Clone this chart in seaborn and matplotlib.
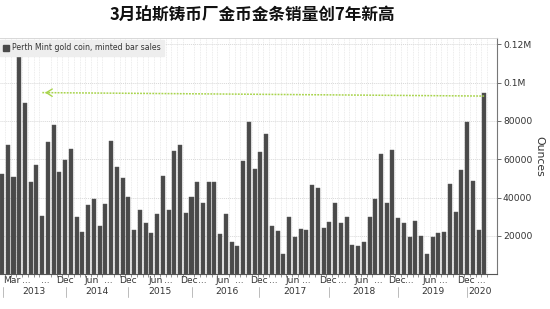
import numpy as np
import pandas as pd
import matplotlib
matplotlib.use("Agg")
import matplotlib.pyplot as plt
from matplotlib.patches import Patch
import seaborn as sns

# ---------------- data ----------------
months = [p.strftime("%Y-%m") for p in pd.period_range("2013-03", "2020-03", freq="M")]
sales = [52200, 67300, 50900, 113600, 89600, 48000, 57100, 30400, 68900, 77900,
         53200, 59500, 65400, 30100, 22200, 36200, 39500, 25200, 36700, 69400,
         55900, 50400, 40500, 23300, 33600, 26800, 21700, 31300, 51500, 33600,
         64400, 67500, 32000, 40400, 48200, 37200, 48300, 48000, 21200, 31500,
         16900, 14800, 59100, 79700, 55000, 63800, 73200, 25200, 22400, 10400,
         29800, 19300, 23800, 23100, 46800, 44900, 24200, 27100, 37400, 26800,
         29900, 15300, 14800, 16900, 29900, 39200, 63000, 37100, 64900, 29200,
         26600, 19500, 28000, 19800, 10600, 19300, 21600, 21900, 47100, 32500,
         54400, 79700, 48500, 23000, 94500]
month_labels = ["Mar", "...", "...", "Dec", "Jun", "...", "Dec", "Jun", "...", "Dec",
                "...", "Jun", "...", "Dec", "...", "Jun", "...", "Dec", "...", "Jun",
                "...", "Dec", "...", "Jun", "...", "Dec", "..."]
year_labels = ["2013", "2014", "2015", "2016", "2017", "2018", "2019", "2020"]
ytick_values = [20000, 40000, 60000, 80000, 100000, 120000]
ytick_labels = ["20000", "40000", "60000", "80000", "0.1M", "0.12M"]
series_name = "Perth Mint gold coin, minted bar sales"
title = "3月珀斯铸币厂金币金条销量创7年新高"
ylabel = "Ounces"

# ---------------- layout ----------------
month_label_pos = [1.65, 4.3, 7.5, 11.0, 15.6, 18.5, 21.9, 26.8, 29.0, 32.5,
                   34.8, 38.5, 41.4, 44.8, 47.3, 50.6, 53.0, 56.7, 59.2, 62.6,
                   65.5, 68.7, 71.0, 74.4, 76.9, 80.8, 83.4]
year_label_pos = [5.5, 16.5, 27.5, 39.1, 51.0, 63.0, 75.0, 83.3]
year_sep_pos = [0.2, 11.1, 21.9, 33.0, 44.8, 57.0, 69.0, 81.0]
arrow_left = (7.02, 94800)
arrow_right_x = 84.1

W, H = 550, 309
bar_color = "#4a4a4a"
grid_color = "#d8d8d8"
text_color = "#333333"
arrow_color = "#a8d44c"
fs = 6.6

sns.set_theme(style="white")
plt.rcParams["font.family"] = ["DejaVu Sans"]

fig = plt.figure(figsize=(W / 100, H / 100), dpi=100)
ax_left, ax_right_px, ax_bottom_px, ax_top_px = 0.0, 496.7, 274.3, 38.0
ax = fig.add_axes([ax_left, (H - ax_bottom_px) / H,
                   ax_right_px / W - ax_left, (ax_bottom_px - ax_top_px) / H])
ax_h_px = ax_bottom_px - ax_top_px

df = pd.DataFrame({"month": months, "sales": sales})
sns.barplot(data=df, x="month", y="sales", order=months, color=bar_color,
            width=0.7, saturation=1, ax=ax, zorder=3)
for p in ax.patches:
    p.set_edgecolor("#5a5a5a")
    p.set_linewidth(0.3)

n = len(months)
ax.set_xlim(-0.35, 86.15)
ax.set_ylim(0, 123300)

# y axis on the right
ax.yaxis.tick_right()
ax.yaxis.set_label_position("right")
ax.set_yticks(ytick_values)
ax.set_yticklabels(ytick_labels, fontsize=fs, color=text_color)
ax.tick_params(axis="y", which="major", length=3, width=0.6, color="#555555",
               pad=1.5, right=True, left=False)
ax.set_ylabel(ylabel, rotation=270, fontsize=7.8, color=text_color, labelpad=9)

# x axis: labels at fractional positions, tiny ticks at each month
ax.set_xticks(month_label_pos)
ax.set_xticklabels(month_labels, fontsize=fs, color=text_color)
ax.tick_params(axis="x", which="major", length=0, pad=1.5)
ax.set_xticks(np.arange(n) + 0.5, minor=True)
ax.tick_params(axis="x", which="minor", length=1.8, width=0.5, color="#666666",
               bottom=True)
ax.set_xlabel("")

# grid
ax.grid(axis="y", which="major", color=grid_color, linestyle=(0, (1, 1)), lw=0.7, zorder=0)
ax.grid(axis="x", which="minor", color="#e6e6e6", linestyle=(0, (1, 1)), lw=0.6, zorder=0)
ax.grid(axis="x", which="major", visible=False)

# spines
ax.spines["left"].set_visible(False)
ax.spines["top"].set_color(grid_color)
ax.spines["top"].set_linestyle((0, (1, 1)))
ax.spines["top"].set_linewidth(0.7)
ax.spines["right"].set_color("#777777")
ax.spines["right"].set_linewidth(0.8)
ax.spines["bottom"].set_color("#555555")
ax.spines["bottom"].set_linewidth(0.8)

# year row
tr = ax.get_xaxis_transform()
for pos, lab in zip(year_label_pos, year_labels):
    ax.text(pos, -17.4 / ax_h_px, lab, transform=tr, ha="center", va="center",
            fontsize=fs, color=text_color, clip_on=False)
for pos in year_sep_pos:
    ax.plot([pos, pos], [-12.7 / ax_h_px, -22.7 / ax_h_px], transform=tr,
            color="#bbbbbb", lw=0.7, clip_on=False)

# arrow
ax.plot([arrow_left[0], arrow_right_x], [arrow_left[1], sales[-1] - 1500],
        color=arrow_color, lw=1.1, linestyle=(0, (1.2, 0.8)), zorder=4)
ax.annotate("", xy=arrow_left, xytext=(arrow_left[0] + 1.5, arrow_left[1] - 30),
            arrowprops=dict(arrowstyle="->,head_length=0.35,head_width=0.22",
                            color=arrow_color, lw=1.0), zorder=4)

# legend
leg = ax.legend(handles=[Patch(facecolor=bar_color, edgecolor=bar_color, label=series_name)],
                loc="upper left", bbox_to_anchor=(0.0, 0.99), fontsize=5.6,
                frameon=True, fancybox=False, framealpha=1, facecolor="#eeeeee",
                edgecolor="#eeeeee", handlelength=0.8, handleheight=0.9,
                handletextpad=0.3, borderpad=0.4, borderaxespad=0.0)
for t in leg.get_texts():
    t.set_color(text_color)

fig.text(252.5 / W, 1 - 15.5 / H, title, ha="center", va="center", fontsize=12,
         fontweight="bold", family=["Noto Sans CJK SC", "DejaVu Sans"], color="#111111")

fig.savefig("out.png", dpi=100, facecolor="white")
